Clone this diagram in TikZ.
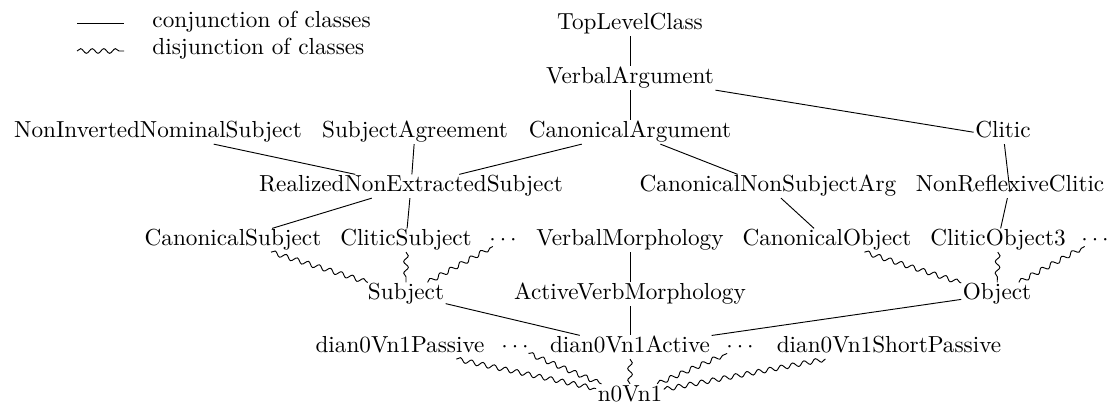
\documentclass[tikz,border=0pt]{standalone}
\usetikzlibrary{decorations.pathmorphing}
\begin{document}
\begin{tikzpicture}[x=0.431pt, y=-0.431pt, line width=0.4pt]
\tikzset{
  cls/.style={inner sep=0.5pt, text height=6.9pt, text depth=1.95pt, anchor=base},
  dotsn/.style={inner sep=0pt, anchor=base},
  legtext/.style={inner sep=0pt, anchor=base west},
  conj/.style={draw},
  disj/.style={draw, decorate, decoration={snake, amplitude=1pt, segment length=5pt}}
}
\useasboundingbox (0,0) rectangle (1109,403);
% legend
\coordinate (la) at (77,23);
\coordinate (lb) at (124,23);
\coordinate (lc) at (77,51);
\coordinate (ld) at (124,51);
\draw (la) -- (lb);
\draw[disj] (lc) -- (ld);
\node[legtext] (lt1) at (152,28) {conjunction of classes};
\node[legtext] (lt2) at (152,55) {disjunction of classes};
% nodes
\node[cls] (TLC) at (630,30) {TopLevelClass};
\node[cls] (VA) at (630,84) {VerbalArgument};
\node[cls] (NonInv) at (158,138) {NonInvertedNominalSubject};
\node[cls] (SubjAgr) at (415,138) {SubjectAgreement};
\node[cls] (CA) at (630,138) {CanonicalArgument};
\node[cls] (Clitic) at (1003,138) {Clitic};
\node[cls] (RNES) at (411,192) {RealizedNonExtractedSubject};
\node[cls] (CNSA) at (768,192) {CanonicalNonSubjectArg};
\node[cls] (NRC) at (1010,192) {NonReflexiveClitic};
\node[cls] (CS) at (233,246) {CanonicalSubject};
\node[cls] (CliticS) at (406,246) {CliticSubject};
\node[dotsn] (dotsA) at (503,246) {$\cdots$};
\node[cls] (VM) at (630,246) {VerbalMorphology};
\node[cls] (CO) at (827,246) {CanonicalObject};
\node[cls] (CO3) at (998,246) {CliticObject3};
\node[dotsn] (dotsB) at (1095,246) {$\cdots$};
\node[cls] (Subject) at (406,300) {Subject};
\node[cls] (AVM) at (630,300) {ActiveVerbMorphology};
\node[cls] (Object) at (997,300) {Object};
\node[cls] (Passive) at (400,353) {dian0Vn1Passive};
\node[dotsn] (dotsC) at (515,353) {$\cdots$};
\node[cls] (Active) at (630,353) {dian0Vn1Active};
\node[dotsn] (dotsD) at (740,353) {$\cdots$};
\node[cls] (SP) at (889,353) {dian0Vn1ShortPassive};
\node[cls] (n0) at (630,401.5) {n0Vn1};
% conjunction connectors
\draw (TLC) -- (VA);
\draw (VA) -- (CA);
\draw (VA.south east) -- (Clitic.west);
\draw (NonInv) -- (RNES);
\draw (SubjAgr) -- (RNES);
\draw (CA) -- (RNES);
\draw (CA) -- (CNSA);
\draw (Clitic) -- (NRC.base);
\draw (NRC) -- (CO3);
\draw (RNES) -- (CS);
\draw (RNES) -- (CliticS);
\draw (CNSA) -- (CO);
\draw (VM) -- (AVM);
\draw (AVM) -- (Active);
\draw (Subject) -- (Active);
\draw (Object) -- (Active);
% disjunction connectors
\draw[disj] (CS) -- (Subject);
\draw[disj] (CliticS) -- (Subject);
\draw[disj] (Subject) -- (dotsA);
\draw[disj] (CO) -- (Object);
\draw[disj] (CO3) -- (Object);
\draw[disj] (Object) -- (dotsB);
\draw[disj] (Passive) -- (n0);
\draw[disj] (dotsC) -- (n0);
\draw[disj] (Active) -- (n0);
\draw[disj] (n0) -- (dotsD);
\draw[disj] (n0) -- (SP);
\end{tikzpicture}
\end{document}
